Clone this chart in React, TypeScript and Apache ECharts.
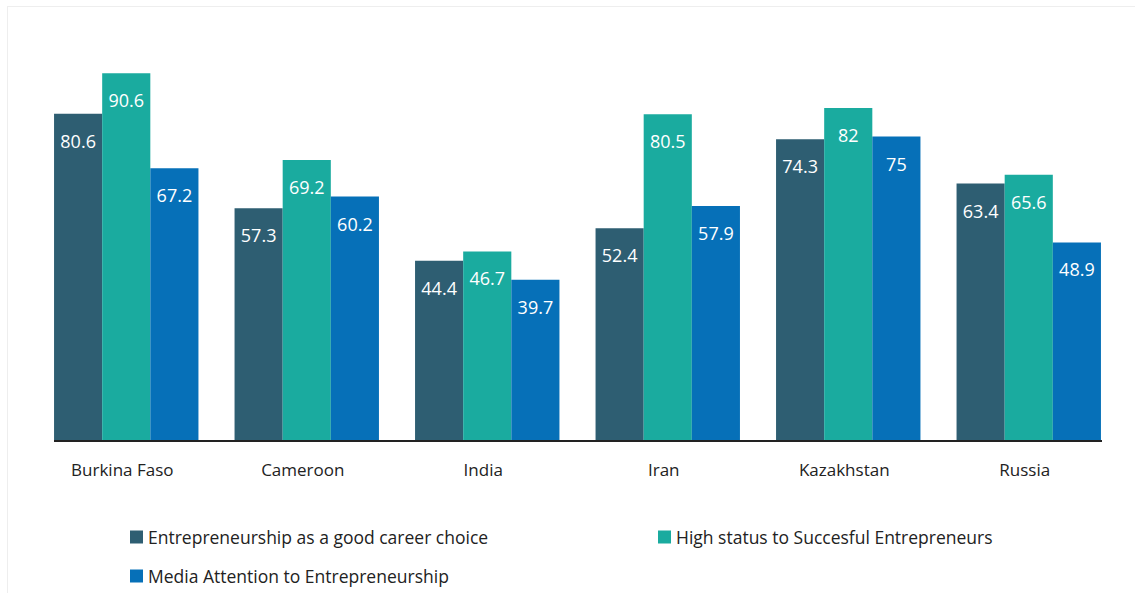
import React, { useEffect, useRef } from "react";
import * as echarts from "echarts";

const categories = ["Burkina Faso", "Cameroon", "India", "Iran", "Kazakhstan", "Russia"];
const careerChoice = [80.6, 57.3, 44.4, 52.4, 74.3, 63.4];
const highStatus = [90.6, 69.2, 46.7, 80.5, 82, 65.6];
const mediaAttention = [67.2, 60.2, 39.7, 57.9, 75, 48.9];
const seriesNames = [
  "Entrepreneurship as a good career choice",
  "High status to Succesful Entrepreneurs",
  "Media Attention to Entrepreneurship",
];
const colors = ["#2e5e72", "#1aab9f", "#0670b8"];

const FONT = "'Open Sans', 'Noto Sans', sans-serif";

export default function App() {
  const ref = useRef<HTMLDivElement>(null);
  useEffect(() => {
    if (!ref.current) return;
    const chart = echarts.init(ref.current, undefined, { renderer: "svg" });
    const label = {
      show: true,
      position: "insideTop" as const,
      distance: 18,
      color: "#ffffff",
      fontSize: 18,
      fontFamily: FONT,
    };
    const mk = (name: string, data: number[], color: string) => ({
      name,
      type: "bar" as const,
      data,
      barGap: "0%",
      barCategoryGap: "20%",
      itemStyle: { color },
      label,
    });
    chart.setOption({
      animation: false,
      color: colors,
      grid: { left: 28, right: 19, top: 28, bottom: 166 },
      xAxis: {
        type: "category",
        data: categories,
        axisLine: { show: false },
        axisTick: { show: false },
        axisLabel: {
          color: "#222222",
          fontSize: 17,
          fontFamily: FONT,
          margin: 20,
          padding: [0, 8, 0, 0],
        },
      },
      yAxis: {
        type: "value",
        min: 0,
        max: 100,
        show: false,
        splitLine: { show: false },
      },
      legend: {
        left: 122,
        top: 520,
        width: 1100,
        padding: 0,
        itemWidth: 13,
        itemHeight: 13,
        itemGap: 19,
        icon: "rect",
        textStyle: {
          color: "#222222",
          fontSize: 17.5,
          fontFamily: FONT,
          width: 491,
          lineHeight: 20,
        },
        data: seriesNames,
      },
      graphic: [
        {
          type: "line",
          shape: { x1: 46, y1: 434, x2: 1094, y2: 434 },
          style: { stroke: "#222222", lineWidth: 2 },
          z: 10,
        },
      ],
      series: [
        mk(seriesNames[0], careerChoice, colors[0]),
        mk(seriesNames[1], highStatus, colors[1]),
        mk(seriesNames[2], mediaAttention, colors[2]),
      ],
    });
    return () => chart.dispose();
  }, []);
  return (
    <div
      style={{
        position: "absolute",
        left: 7,
        top: 6,
        border: "1px solid #eeeeee",
        width: 1130,
        height: 600,
        background: "#ffffff",
      }}
    >
      <div ref={ref} style={{ width: 1130, height: 600 }} />
    </div>
  );
}
